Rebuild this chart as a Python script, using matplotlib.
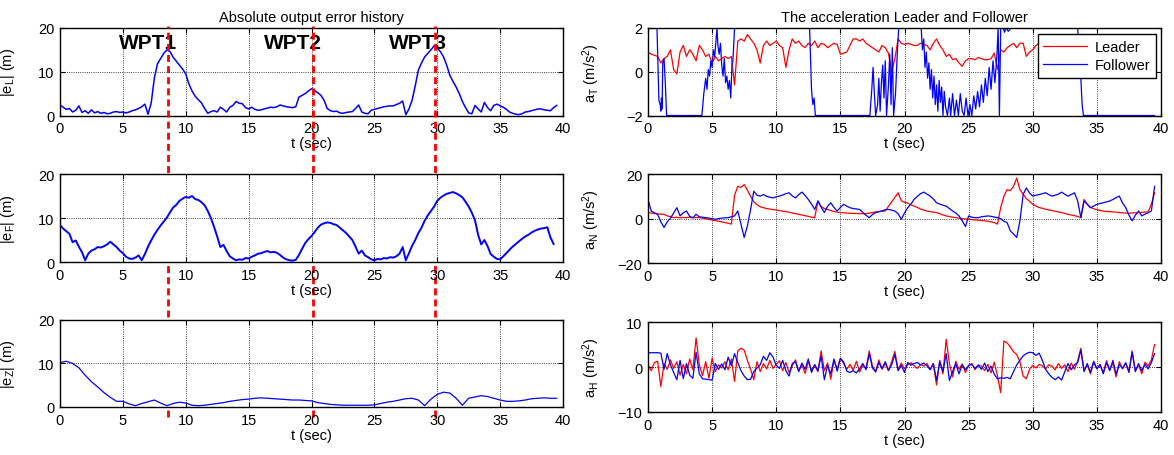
import numpy as np
import matplotlib as mpl
mpl.use('Agg')
import matplotlib.pyplot as plt
from matplotlib.transforms import blended_transform_factory

plt.rcParams['font.family'] = ['Liberation Sans', 'DejaVu Sans']
plt.rcParams['mathtext.fontset'] = 'custom'
plt.rcParams['mathtext.rm'] = 'Liberation Sans'
plt.rcParams['mathtext.it'] = 'Liberation Sans:italic'
plt.rcParams['mathtext.bf'] = 'Liberation Sans:bold'

DT = 0.25  # sample step of the read-off series (sec)

# |e_L| (m)
e_L = [2.4, 1.9, 1.4, 1.6, 0.8, 1.2, 2.2, 0.7, 1.1, 0.5, 1.3, 0.6, 0.9, 0.5, 0.7, 0.4,
       0.5, 0.8, 0.9, 0.7, 0.8, 0.6, 0.8, 1.1, 1.3, 1.6, 2.0, 2.6, 0.3, 2.8, 8.5, 11.8,
       13.0, 14.2, 15.0, 14.6, 13.3, 12.4, 11.5, 10.6, 9.5, 7.2, 5.6, 4.4, 3.6, 2.9, 1.6, 0.5,
       0.9, 1.1, 0.8, 1.9, 1.4, 0.8, 1.9, 2.3, 3.2, 2.8, 2.7, 1.8, 1.5, 1.9, 1.4, 1.2,
       1.3, 1.5, 1.7, 1.9, 1.8, 2.0, 2.4, 2.2, 2.0, 1.9, 1.8, 2.0, 4.2, 4.6, 5.0, 5.6,
       6.1, 5.7, 5.2, 4.6, 3.5, 1.6, 1.1, 0.9, 1.0, 0.6, 0.5, 0.7, 0.8, 0.9, 1.6, 2.4,
       0.8, 0.5, 0.4, 1.2, 1.4, 1.6, 1.8, 2.0, 2.1, 2.2, 2.2, 2.5, 2.8, 3.3, 0.2, 1.5,
       3.5, 6.8, 10.4, 12.0, 13.4, 14.2, 15.0, 15.9, 15.4, 14.6, 13.4, 11.5, 9.2, 7.8, 6.5, 5.0,
       3.2, 1.8, 0.6, 0.4, 2.3, 1.5, 0.8, 3.0, 1.8, 1.1, 2.3, 2.6, 2.2, 1.9, 1.4, 0.8,
       0.5, 0.3, 0.2, 0.4, 0.8, 0.9, 1.1, 1.3, 1.5, 1.5, 1.3, 1.2, 1.1, 1.8, 2.3]

# |e_F| (m)
e_F = [8.4, 7.6, 7.0, 6.4, 4.5, 4.9, 3.5, 2.2, 0.4, 1.9, 2.6, 2.9, 3.4, 3.3, 3.6, 4.0,
       4.6, 4.0, 3.4, 2.6, 2.0, 1.2, 0.8, 0.7, 1.0, 1.5, 0.4, 1.8, 3.5, 4.9, 6.2, 7.3,
       8.3, 9.2, 10.1, 11.3, 12.4, 13.0, 13.9, 14.4, 14.8, 14.6, 15.0, 14.3, 14.1, 13.6, 12.9, 11.6,
       10.0, 8.0, 5.8, 3.4, 3.9, 2.5, 1.3, 0.8, 0.4, 0.6, 0.5, 0.9, 0.8, 1.2, 1.5, 1.9,
       2.0, 2.3, 2.5, 2.2, 2.3, 2.1, 1.6, 1.0, 0.6, 0.4, 0.3, 0.5, 1.6, 3.0, 4.3, 5.2,
       5.9, 6.8, 7.8, 8.5, 8.8, 9.0, 8.9, 8.6, 8.4, 7.8, 7.2, 6.6, 5.8, 5.0, 3.5, 1.9,
       2.6, 1.5, 1.1, 0.6, 0.4, 0.7, 0.6, 0.9, 0.8, 1.1, 1.0, 1.3, 1.9, 3.4, 0.4, 2.0,
       3.7, 5.0, 6.6, 7.8, 9.4, 10.6, 11.6, 12.6, 13.9, 14.6, 15.1, 15.5, 15.7, 15.9, 15.6, 15.2,
       14.7, 13.7, 12.6, 11.2, 9.5, 6.2, 4.0, 5.0, 3.6, 1.8, 1.2, 0.7, 0.6, 1.3, 2.0, 2.8,
       3.5, 4.1, 4.7, 5.3, 5.8, 6.2, 6.7, 7.1, 7.4, 7.6, 7.7, 7.9, 5.6, 4.1]

# |e_Z| (m), every 0.5 s
e_Z = [10.2, 10.5, 10.0, 9.0, 7.3, 5.8, 4.6, 3.3, 2.2, 1.3, 1.3, 0.7, 0.3, 0.8, 1.2, 1.6,
       0.9, 0.3, 0.8, 1.1, 0.9, 0.4, 0.3, 0.4, 0.6, 0.8, 1.0, 1.3, 1.5, 1.7, 1.8, 2.0,
       2.1, 2.0, 1.9, 1.8, 1.7, 1.6, 1.6, 1.5, 1.4, 1.0, 0.8, 0.6, 0.5, 0.4, 0.4, 0.4,
       0.4, 0.4, 0.5, 0.8, 1.1, 1.3, 1.6, 1.9, 2.0, 1.6, 0.3, 1.8, 2.9, 3.4, 3.2, 2.0,
       0.4, 2.0, 2.3, 2.6, 2.4, 2.0, 1.6, 1.3, 1.3, 1.4, 1.6, 1.9, 2.0, 2.1, 2.0, 2.0]

# a_T leader (m/s^2)
aT_lead = [0.9, 0.8, 0.75, 0.7, 0.4, 0.6, 0.7, 1.0, 0.1, -0.1, 0.9, 1.2, 0.7, 1.0, 0.8, 0.5,
           1.2, 1.0, 0.7, 0.8, 0.4, 0.7, 0.5, 0.6, 0.7, 0.6, 0.7, -0.6, 1.4, 1.5, 1.4, 1.7,
           1.5, 1.3, 1.0, 0.4, 1.2, 1.4, 1.2, 1.3, 1.4, 1.2, 1.1, 0.2, 1.0, 1.5, 1.3, 1.4,
           1.2, 1.1, 1.3, 1.2, 1.4, 1.1, 1.3, 1.25, 1.1, 1.2, 1.3, 1.25, 0.8, 0.85, 0.9, 1.2,
           1.5, 1.5, 1.4, 1.5, 1.3, 1.2, 1.1, 1.0, 0.9, 1.2, 1.1, 0.85, 0.0, 0.6, 1.5, 1.3,
           1.25, 1.3, 1.25, 1.2, 1.2, 1.3, 1.25, 1.2, 1.0, 1.3, 1.5, 1.2, 1.0, 0.7, 0.8, 0.55,
           0.6, 0.4, 0.25, 0.5, 0.6, 0.6, 0.55, 0.65, 0.6, 0.55, 0.55, 0.6, 0.85, 0.1, 1.0, 0.9,
           1.1, 1.2, 1.3, 1.1, 1.3, 1.3, 0.7, 0.9, 1.0, 1.2, 1.3, 1.4, 1.2, 1.3, 1.4, 1.2,
           1.3, 1.4, 1.3, 1.2, 1.4, 1.3, 1.2, 1.4, 1.3, 1.2, 1.4, 1.3, 1.4, 1.2, 1.3, 1.4,
           1.3, 1.2, 1.4, 1.3, 1.2, 1.4, 1.3, 1.2, 1.3, 1.4, 1.3, 1.2, 1.3, 1.2, 1.2]

# a_T follower: saturates at +-2, read at irregular times
aT_fol_t = [0.0, 0.7, 0.85, 0.95, 1.0, 1.05, 1.1, 1.15, 1.25, 1.35, 1.45, 4.2, 4.35, 4.5, 4.6,
            4.7, 4.8, 4.9, 5.0, 5.1, 5.2, 5.3, 5.38, 5.45, 5.55, 5.65, 5.75, 5.85, 5.95, 6.05,
            6.15, 6.25, 6.35, 6.45, 6.55, 6.62, 6.75, 12.6, 12.75, 12.85, 12.95, 13.05, 17.3,
            17.45, 17.55, 17.65, 17.75, 17.9, 18.0, 18.1, 18.2, 18.3, 18.4, 18.5, 18.6, 18.75,
            18.85, 18.95, 19.05, 19.15, 19.3, 19.45, 19.55, 21.3, 21.4, 21.5, 21.6, 21.7, 21.8,
            21.9, 22.0, 22.1, 22.2, 22.3, 22.4, 22.5, 22.6, 22.7, 22.8, 22.9, 23.0, 23.1, 23.2,
            23.35, 23.5, 23.6, 23.75, 23.9, 24.05, 24.2, 24.35, 24.5, 24.65, 24.8, 24.95, 25.1,
            25.25, 25.4, 25.55, 25.7, 25.85, 26.0, 26.15, 26.3, 26.45, 26.6, 26.75, 26.9, 27.05,
            27.2, 27.3, 27.4, 27.5, 27.7, 27.8, 27.9, 28.1, 28.3, 28.4, 33.5, 33.65, 33.75,
            33.85, 33.95, 39.5]
aT_fol = [2.0, 2.0, -1.3, -1.5, -1.8, -1.2, -1.7, 0.4, 0.6, -0.5, -2.0, -2.0, -1.0, -0.3, -0.8,
          0.1, -0.2, 0.5, 0.2, 1.0, 0.7, 1.4, 2.0, 1.2, 0.8, 1.3, 0.3, -0.2, 0.6, -0.5,
          -0.2, -0.8, -0.4, -1.2, 0.3, 0.5, 2.0, 2.0, -0.8, -1.5, -1.2, -2.0, -2.0,
          -0.8, 0.2, -1.0, -2.0, -1.5, -0.3, -1.8, -0.5, 0.3, -1.2, 0.5, -2.0, -0.6,
          0.8, -1.5, 1.1, -2.0, -1.0, 1.0, 2.0, 2.0, 1.0, 1.5, 0.2, 0.9, -0.3,
          0.4, -0.8, 0.1, -1.2, -0.2, -1.5, -0.6, -1.8, -0.4, -1.4, -0.7, -2.0, -0.9, -1.6,
          -2.0, -1.2, -2.0, -1.0, -2.0, -1.3, -2.0, -1.0, -1.8, -2.0, -1.2, -2.0, -1.5,
          -2.0, -1.1, -1.7, -0.9, -1.6, -0.6, -1.4, -0.3, -1.1, 0.2, -0.8, 0.5, -0.5,
          0.7, 2.0, -2.0, 2.0, 2.0, 1.8, 2.0, 1.85, 2.0, 2.0, 2.0, 0.5, -0.3,
          -1.5, -2.0, -2.0]

# a_N (m/s^2)
aN_lead = [2.7, 2.5, 2.3, 2.1, 2.0, 1.9, 1.2, 0.9, 0.4, 0.6, 0.3, 0.5, 0.4, 0.6, 0.3, 0.5,
           0.4, 0.2, 0.0, -0.4, -0.7, -0.9, -1.2, -1.5, -1.8, -2.1, -2.5, 10.5, 14.5, 14.0, 15.3, 12.8,
           10.0, 7.6, 6.2, 5.3, 4.9, 4.5, 4.3, 4.0, 3.9, 3.6, 3.3, 3.1, 2.9, 2.5, 2.2, 1.9,
           1.6, 1.3, 1.0, 0.6, 0.4, 7.9, 5.5, 4.5, 4.1, 3.6, 3.2, 2.9, 2.7, 2.6, 2.5, 2.4,
           2.3, 2.3, 2.2, 2.2, 2.2, 2.5, 2.7, 3.0, 3.2, 3.3, 3.4, 5.5, 7.5, 9.5, 11.6, 8.0,
           7.3, 7.0, 6.2, 5.6, 5.0, 4.3, 3.8, 3.4, 3.1, 2.9, 2.7, 2.2, 1.6, 1.2, 0.9, 0.6,
           0.4, 0.2, 0.0, -0.2, -0.3, -0.5, -0.6, -0.7, -0.8, -1.0, -1.2, -1.5, -1.8, -2.5, 5.0, 10.0,
           13.0, 12.6, 14.5, 18.2, 13.0, 11.0, 9.0, 7.8, 6.4, 5.6, 5.0, 4.6, 4.2, 3.9, 3.6, 3.3,
           3.0, 2.7, 2.3, 1.9, 1.6, 1.3, 1.0, 0.4, 8.6, 6.5, 5.0, 4.4, 4.0, 3.6, 3.4, 3.2,
           3.1, 3.0, 2.9, 2.7, 2.6, 2.5, 2.4, 2.5, 2.6, 2.7, 2.8, 2.9, 3.0, 6.5, 11.6]
aN_fol = [8.6, 3.4, 2.6, 1.9, -1.5, -4.0, -1.5, 0.2, 2.5, 4.9, 1.2, 2.6, 3.4, 1.0, 0.4, 1.9,
          0.8, 0.6, 0.4, 0.2, -0.1, -0.3, 0.0, 0.2, 0.3, 0.4, 0.8, 1.2, 3.4, -2.5, -8.5, -3.3,
          4.1, 12.3, 10.5, 10.1, 10.8, 10.0, 9.6, 9.3, 9.8, 10.1, 10.6, 11.2, 11.6, 10.2, 9.3, 10.8,
          11.9, 10.4, 8.6, 6.5, 4.1, 7.9, 5.2, 2.7, 5.5, 7.1, 5.0, 3.4, 5.0, 6.4, 5.6, 4.9,
          4.5, 4.3, 4.1, 2.8, 1.5, 0.4, 1.8, 2.7, 3.0, 3.5, 4.0, 4.1, 3.8, 3.4, 2.2, -0.3,
          2.5, 4.9, 6.5, 8.6, 10.0, 11.2, 11.9, 11.0, 10.1, 8.8, 7.1, 6.5, 6.0, 5.6, 4.5, 3.4,
          2.5, 1.2, -1.0, -3.6, 1.2, 0.6, 0.4, 0.4, 0.8, 1.0, 1.2, 1.0, 0.7, 0.4, 0.0, -1.2,
          -1.8, -5.5, -7.0, -8.5, -1.0, 10.8, 13.8, 11.5, 10.1, 10.5, 10.8, 11.2, 11.6, 10.8, 10.1, 10.5,
          11.0, 11.9, 10.9, 10.1, 10.8, 11.6, 8.0, 0.4, 7.9, 6.4, 4.9, 5.6, 6.4, 6.8, 7.1, 7.5,
          7.9, 8.6, 9.4, 10.1, 7.0, 4.9, 1.5, -1.0, 1.5, 3.4, 1.2, 2.0, 2.6, 3.4, 14.5]

# a_H (m/s^2)
aH_lead = [0.5, -0.8, 1.0, 1.3, -4.3, 0.8, -0.5, 1.6, -0.3, 1.2, -1.8, 0.6, -1.5, 1.8, -0.6, 6.5,
           0.5, -1.9, 1.2, -2.5, 2.0, -1.0, 0.5, -0.2, 1.2, -0.6, 1.8, -3.2, 3.6, 4.2, 3.8, 1.5,
           -0.5, -2.8, 1.2, -1.0, 0.8, -0.4, 1.5, -0.3, 0.6, 1.4, -0.8, 1.0, -1.2, 0.3, 1.6, -0.9,
           0.5, -1.4, 1.2, -0.6, 0.3, -1.0, 3.6, -0.8, 0.9, -2.7, 1.5, -0.4, 2.0, 0.8, -0.5, 0.6,
           -0.7, 1.3, -1.1, 0.4, -0.3, 3.6, 0.2, -0.9, 1.6, -0.5, 0.7, -0.8, 1.2, 3.5, -0.6, 0.9,
           -0.4, 0.5, 1.0, 0.3, -0.3, 0.6, 0.2, 0.8, -0.5, 0.7, -4.0, 1.5, -1.5, 6.2, 0.8, -2.2,
           1.3, -0.5, 0.7, -1.2, 0.4, 0.8, -0.6, 0.5, 0.2, -0.8, 0.6, -1.3, 1.1, -2.0, -5.7, 5.8,
           5.4, 4.5, 3.4, 2.8, 1.2, -2.0, -2.6, -0.5, 0.4, -0.2, 0.6, 0.3, -0.4, 0.5, 0.2, -0.6,
           0.8, -0.3, 0.5, -1.0, 0.9, -0.5, 1.3, 4.2, -0.8, 0.5, -1.5, 1.0, -0.3, 0.6, -1.2, 1.4,
           -0.6, 0.9, -2.2, 1.2, -0.4, 0.8, -1.0, 3.6, -0.8, 0.5, -1.5, 1.1, 0.2, 1.6, 5.0]
aH_fol = [3.2, 3.2, 3.2, 3.2, 3.1, -0.5, 3.0, 0.5, -1.2, -2.8, 1.5, -2.6, 0.8, -1.8, -2.5, 3.3,
          -1.5, -2.6, -2.7, -2.8, -2.9, 0.8, -0.5, 0.7, -0.6, 2.2, 0.3, 3.0, 1.0, -0.8, -2.0, -2.8,
          -2.7, -1.0, -0.2, 0.5, 2.4, 1.5, 3.2, 2.2, 0.4, -0.3, 1.5, -0.8, -2.0, 0.8, 1.2, -1.0,
          0.9, -0.5, 1.8, -1.2, 0.6, -0.8, 2.5, -2.8, 0.4, -1.5, 1.8, -0.9, 1.9, 1.2, -0.9, -1.2,
          -0.8, -1.3, -0.4, 0.8, -0.6, 3.0, -0.2, -1.1, 1.0, -0.3, 1.2, -0.7, 0.5, 2.8, -0.8, 0.4,
          -1.2, 1.0, 0.4, 0.8, 1.0, 0.5, 0.9, 0.3, -0.6, 0.8, -3.0, 1.2, -1.0, 3.0, -3.0, -1.0,
          0.8, -1.5, 0.5, -0.6, 0.3, 0.6, -0.3, 0.4, -0.5, 0.9, -1.0, 0.2, -1.6, -2.6, -2.4, -2.5,
          -2.3, -2.6, -1.0, 0.5, 1.5, 2.5, 3.0, 3.3, 3.2, 2.6, 3.1, 1.5, -0.5, -1.5, -2.3, -2.8,
          -2.2, -2.9, -1.0, 0.8, -0.6, 0.5, 1.0, 3.8, -1.0, 0.8, -1.2, 1.3, -0.4, 0.5, -1.5, 1.0,
          -0.8, 1.5, -1.6, 0.6, -0.3, 1.0, -1.2, 3.3, -1.0, 0.8, -0.8, 0.6, -0.4, 1.0, 3.0]

wpt_t = [8.6, 20.1, 29.8]
wpt_labels = ['WPT1', 'WPT2', 'WPT3']
wpt_label_t = [7.0, 18.5, 28.5]


def tgrid(vals, dt=DT):
    return np.arange(len(vals)) * dt


def style(ax, yticks):
    ax.set_xlim(0, 40)
    ax.set_ylim(yticks[0], yticks[-1])
    ax.set_xticks(np.arange(0, 41, 5))
    ax.set_yticks(yticks)
    ax.tick_params(direction='in', top=True, right=True, length=3.5, width=0.8,
                   labelsize=10.5, pad=4)
    ax.grid(True, linestyle=':', color='k', linewidth=0.6)
    for s in ax.spines.values():
        s.set_linewidth(1.0)
    ax.set_xlabel('t (sec)', fontsize=10.5, labelpad=1)


def main():
    fig = plt.figure(figsize=(11.74, 4.56), dpi=100)
    L, W = 60 / 1174, 503 / 1174
    R, WR = 648 / 1174, 513 / 1174
    ax1 = fig.add_axes([L, 0.7445, W, 0.192])
    ax2 = fig.add_axes([L, 0.4232, W, 0.193])
    ax3 = fig.add_axes([L, 0.1053, W, 0.191])
    ax4 = fig.add_axes([R, 0.7445, WR, 0.192])
    ax5 = fig.add_axes([R, 0.421, WR, 0.195])
    ax6 = fig.add_axes([R, 0.0943, WR, 0.197])

    # left column: output errors
    ax1.plot(tgrid(e_L), e_L, 'b', lw=1.1)
    ax2.plot(tgrid(e_F), e_F, 'b', lw=1.4)
    ax3.plot(tgrid(e_Z, 0.5), e_Z, 'b', lw=0.9)
    for ax, lab in zip([ax1, ax2, ax3], ['L', 'F', 'Z']):
        style(ax, [0, 10, 20])
        ax.set_ylabel(r'|e$_\mathrm{%s}$| (m)' % lab, fontsize=10.5)
        ax.yaxis.set_label_coords(-0.085, 0.5)
    ax1.set_title('Absolute output error history', fontsize=10.5, pad=5)
    for tx, lab in zip(wpt_label_t, wpt_labels):
        ax1.text(tx, 16.6, lab, fontsize=15, fontweight='bold', ha='center', va='center')

    # waypoint markers span the whole left column
    blend = blended_transform_factory(ax1.transData, fig.transFigure)
    for tv in wpt_t:
        ax1.plot([tv, tv], [0.083, 0.9415], color='r', ls=(0, (2.5, 1.5)), lw=2.0,
                 transform=blend, clip_on=False, zorder=5)

    # right column: accelerations
    ax4.plot(tgrid(aT_lead), aT_lead, 'r', lw=0.9, label='Leader')
    ax4.plot(aT_fol_t, aT_fol, 'b', lw=0.9, label='Follower')
    ax5.plot(tgrid(aN_lead), aN_lead, 'r', lw=0.9)
    ax5.plot(tgrid(aN_fol), aN_fol, 'b', lw=0.9)
    ax6.plot(tgrid(aH_lead), aH_lead, 'r', lw=0.9)
    ax6.plot(tgrid(aH_fol), aH_fol, 'b', lw=0.9)
    for ax, yt, lab in zip([ax4, ax5, ax6], [[-2, 0, 2], [-20, 0, 20], [-10, 0, 10]],
                           ['T', 'N', 'H']):
        style(ax, yt)
        ax.set_ylabel(r'a$_\mathrm{%s}$ (m/s$^\mathrm{2}$)' % lab, fontsize=10.5)
        ax.yaxis.set_label_coords(-0.09, 0.5)
    ax4.set_title('The acceleration Leader and Follower', fontsize=10.5, pad=5)
    leg = ax4.legend(loc='upper right', bbox_to_anchor=(0.99, 0.93), fontsize=10.5,
                     fancybox=False, framealpha=1, edgecolor='k', borderaxespad=0,
                     handlelength=3, handletextpad=0.5, borderpad=0.4, labelspacing=0.3)
    leg.get_frame().set_linewidth(1.0)
    leg.set_zorder(10)

    fig.savefig('out.png', dpi=100)
    print('Created out.png')


if __name__ == '__main__':
    main()
